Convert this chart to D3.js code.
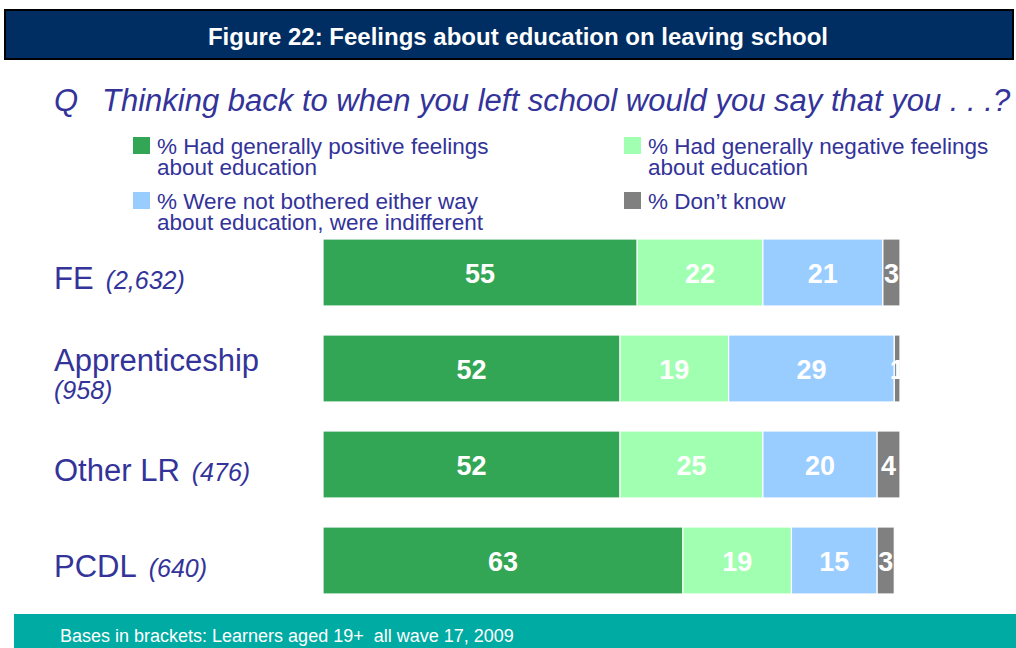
<!DOCTYPE html>
<html>
<head>
<meta charset="utf-8">
<script src="https://cdn.jsdelivr.net/npm/d3@7"></script>
<style>
  html, body { margin: 0; padding: 0; background: #fff; }
  svg { display: block; font-family: Arial, "Liberation Sans", sans-serif; }
</style>
</head>
<body>
<svg id="chart" width="1016" height="648"></svg>
<script>
// Survey groups and their base sizes
const groups = ["FE", "Apprenticeship", "Other LR", "PCDL"];
const bases = ["(2,632)", "(958)", "(476)", "(640)"];

// Percentage responses per group
const positive    = [55, 52, 52, 63];
const negative    = [22, 19, 25, 19];
const indifferent = [21, 29, 20, 15];
const dontKnow    = [3, 1, 4, 3];

const seriesNames = [
  ["% Had generally positive feelings", "about education"],
  ["% Had generally negative feelings", "about education"],
  ["% Were not bothered either way", "about education, were indifferent"],
  ["% Don\u2019t know"]
];
const seriesColors = ["#33a655", "#a0ffb0", "#99ccff", "#808080"];

const svg = d3.select("#chart");
const ink = "#333399";

// Title bar
svg.append("rect").attr("x", 5).attr("y", 10).attr("width", 1008).attr("height", 49)
  .attr("fill", "#002d62").attr("stroke", "#000").attr("stroke-width", 2);
svg.append("text").attr("x", 518).attr("y", 45).attr("text-anchor", "middle")
  .attr("fill", "#fff").attr("font-weight", "bold").attr("font-size", 24)
  .text("Figure 22: Feelings about education on leaving school");

// Question
const q = svg.append("text").attr("x", 54).attr("y", 111).attr("fill", ink)
  .attr("font-size", 31).attr("font-style", "italic");
q.append("tspan").text("Q");
q.append("tspan").attr("x", 102).text("Thinking back to when you left school would you say that you . . .?");

// Legend
const legendPos = [[133, 137], [624, 137], [133, 192], [624, 192]];
seriesNames.forEach((lines, i) => {
  const [lx, ly] = legendPos[i];
  const g = svg.append("g").attr("transform", `translate(${lx},${ly})`);
  g.append("rect").attr("width", 17).attr("height", 17).attr("fill", seriesColors[i]);
  const t = g.append("text").attr("fill", ink).attr("font-size", 22.5);
  lines.forEach((line, k) => {
    t.append("tspan").attr("x", 24).attr("y", 17 + k * 21).text(line);
  });
});

// Scales
const x = d3.scaleLinear().domain([0, 101]).range([323, 900]);
const y = d3.scaleBand().domain(groups).range([239, 594]).paddingInner(29 / 96).paddingOuter(0);

const seriesData = [positive, negative, indifferent, dontKnow];
const rows = groups.map((g, gi) => {
  let acc = 0;
  return seriesData.map((s, si) => {
    const seg = { group: g, series: si, value: s[gi], x0: acc, x1: acc + s[gi] };
    acc += s[gi];
    return seg;
  });
});

const bars = svg.append("g");
rows.forEach(row => {
  const g = bars.append("g");
  g.selectAll("rect").data(row).join("rect")
    .attr("x", d => x(d.x0))
    .attr("y", d => y(d.group))
    .attr("width", d => x(d.x1) - x(d.x0))
    .attr("height", y.bandwidth())
    .attr("fill", d => seriesColors[d.series])
    .attr("stroke", "#fff").attr("stroke-width", 1.2);
  g.selectAll("text").data(row).join("text")
    .attr("x", d => (x(d.x0) + x(d.x1)) / 2)
    .attr("y", d => y(d.group) + y.bandwidth() / 2 + 10)
    .attr("text-anchor", "middle")
    .attr("fill", "#fff").attr("font-weight", "bold").attr("font-size", 27)
    .text(d => d.value);
});

// Category labels with bases
groups.forEach((g, i) => {
  const cy = y(g) + y.bandwidth() / 2;
  if (g === "Apprenticeship") {
    svg.append("text").attr("x", 54).attr("y", cy + 2).attr("fill", ink).attr("font-size", 31).text(g);
    svg.append("text").attr("x", 54).attr("y", cy + 30).attr("fill", ink).attr("font-size", 25)
      .attr("font-style", "italic").text(bases[i]);
  } else {
    const t = svg.append("text").attr("x", 54).attr("y", cy + 16).attr("fill", ink);
    t.append("tspan").attr("font-size", 31).text(g);
    t.append("tspan").attr("font-size", 25).attr("font-style", "italic").attr("dx", 12).text(bases[i]);
  }
});

// Footer band
svg.append("rect").attr("x", 14).attr("y", 614).attr("width", 1002).attr("height", 34).attr("fill", "#00aba3");
svg.append("text").attr("x", 60).attr("y", 642).attr("fill", "#fff").attr("font-size", 18)
  .style("white-space", "pre")
  .text("Bases in brackets: Learners aged 19+  all wave 17, 2009");
</script>
</body>
</html>
